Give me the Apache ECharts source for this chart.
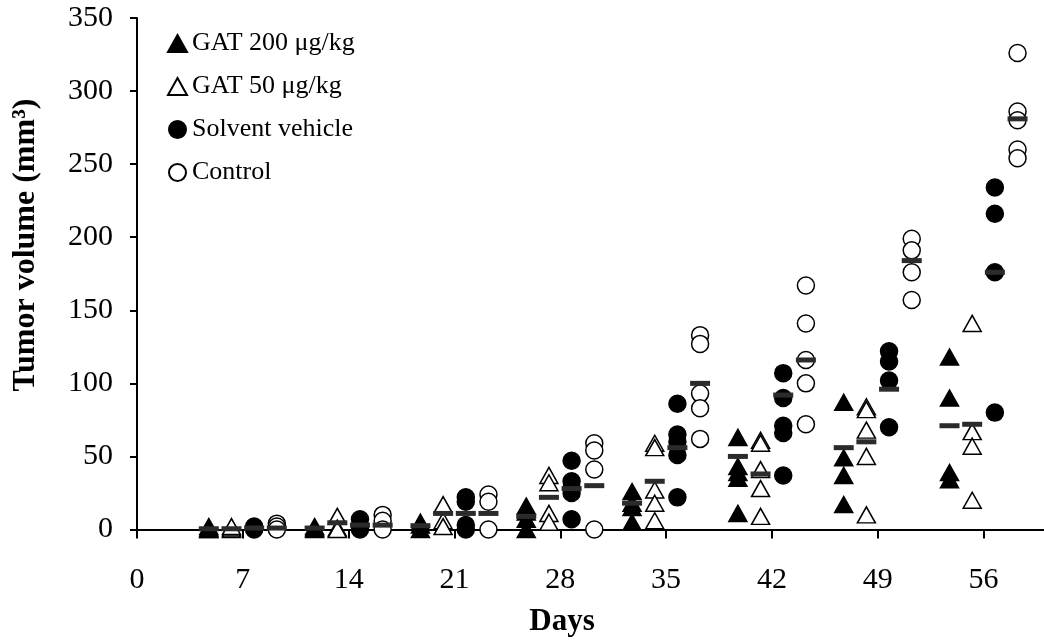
<!DOCTYPE html>
<html>
<head>
<meta charset="utf-8">
<title>Tumor volume</title>
<script src="https://cdn.jsdelivr.net/npm/echarts@6/dist/echarts.min.js"></script>
<style>
  html, body { margin: 0; padding: 0; background: #fff; }
  #chart { width: 1044px; height: 643px; }
</style>
</head>
<body>
<div id="chart"></div>
<script>
// Measurement days and axis ticks
const days = [7, 14, 21, 28, 35, 42, 49, 56];
const xTicks = [0, 7, 14, 21, 28, 35, 42, 49, 56];

// Individual tumor volumes (mm³) per measurement day, one list per day
const gat200 = [
  [0, 0, 1, 2], [0, 1, 2], [5, 3, 0], [16, 12, 7, 0],
  [26, 18, 15, 5], [63, 43, 39, 35, 11], [87, 49, 37, 17], [118, 90, 39, 34]
];
const gat50 = [
  [0, 1, 2], [9, 1, 0], [17, 6, 2], [37, 32, 11, 5],
  [59, 56, 27, 18, 6], [61, 59, 41, 28, 9], [84, 82, 68, 50, 10], [141, 67, 57, 20]
];
const solvent = [
  [2, 1, 0], [7, 2, 0], [22, 19, 3, 0], [47, 33, 28, 25, 7],
  [86, 65, 60, 51, 22], [107, 90, 71, 66, 37], [122, 115, 102, 70], [234, 216, 176, 80]
];
const control = [
  [4, 2, 0], [10, 6, 0], [24, 19, 0], [59, 54, 41, 0],
  [133, 127, 93, 83, 62], [167, 141, 116, 100, 72], [199, 191, 176, 157], [326, 286, 280, 260, 254]
];

// Group means per day
const gat200Mean = [0.5, 1, 2.6, 9, 18, 50, 56, 71];
const gat50Mean = [0.5, 4.6, 11, 22, 33, 38, 60, 72];
const solventMean = [1, 3, 11, 28, 56, 92, 96, 176];
const controlMean = [1, 3, 11, 30, 100, 116, 184, 281];

const FONT = '"Liberation Serif", "Times New Roman", serif';

// Each group sits at a fixed day offset around the measurement day
const groups = [
  { name: 'GAT 200 μg/kg', vals: gat200, mean: gat200Mean, shift: -2.25,
    symbol: 'triangle', size: [18, 16], fill: '#000' },
  { name: 'GAT 50 μg/kg', vals: gat50, mean: gat50Mean, shift: -0.75,
    symbol: 'triangle', size: [18, 16], fill: '#fff' },
  { name: 'Solvent vehicle', vals: solvent, mean: solventMean, shift: 0.75,
    symbol: 'circle', size: 17, fill: '#000' },
  { name: 'Control', vals: control, mean: controlMean, shift: 2.25,
    symbol: 'circle', size: 17, fill: '#fff' }
];

const series = groups.map(g => {
  const data = [];
  days.forEach((d, i) => g.vals[i].forEach(v => data.push([d + g.shift, v])));
  return {
    name: g.name,
    type: 'scatter',
    symbol: g.symbol,
    symbolSize: g.size,
    data: data,
    itemStyle: { color: g.fill, borderColor: '#000', borderWidth: 1.5, opacity: 1 },
    emphasis: { disabled: true },
    z: 2
  };
});

// Mean bars drawn over the points
const meanData = [];
groups.forEach(g => days.forEach((d, i) => meanData.push([d + g.shift, g.mean[i]])));
series.push({
  name: 'mean',
  type: 'scatter',
  symbol: 'rect',
  symbolSize: [20, 5],
  data: meanData,
  itemStyle: { color: '#2b2b2b', opacity: 1 },
  emphasis: { disabled: true },
  z: 5
});

const chart = echarts.init(document.getElementById('chart'), null, { renderer: 'canvas' });
chart.setOption({
  backgroundColor: '#fff',
  animation: false,
  grid: { left: 137, right: 0, top: 18, bottom: 113.5, containLabel: false },
  legend: {
    data: groups.map(g => g.name),
    orient: 'vertical',
    left: 162,
    top: 25,
    itemWidth: 19,
    itemHeight: 17,
    itemGap: 16,
    selectedMode: false,
    textStyle: { fontFamily: FONT, fontSize: 26, color: '#000', lineHeight: 27 }
  },
  xAxis: {
    type: 'value',
    min: 0,
    max: 60,
    axisLine: { show: true, onZero: false, lineStyle: { color: '#000', width: 2 } },
    axisTick: { show: true, inside: false, length: 9, customValues: xTicks,
      lineStyle: { color: '#000', width: 2 } },
    axisLabel: { customValues: xTicks, margin: 36, fontFamily: FONT, fontSize: 30, color: '#000' },
    splitLine: { show: false }
  },
  yAxis: {
    type: 'value',
    min: 0,
    max: 350,
    interval: 50,
    axisLine: { show: true, lineStyle: { color: '#000', width: 2 } },
    axisTick: { show: true, inside: false, length: 7, lineStyle: { color: '#000', width: 2 } },
    axisLabel: { margin: 24, fontFamily: FONT, fontSize: 30, color: '#000' },
    splitLine: { show: false }
  },
  graphic: [
    {
      type: 'text',
      x: 562, y: 622,
      style: { text: 'Days', font: 'bold 31px ' + FONT, fill: '#000',
        align: 'center', verticalAlign: 'middle' }
    },
    {
      type: 'text',
      x: 26, y: 245,
      rotation: Math.PI / 2,
      style: { text: 'Tumor volume (mm³)', font: 'bold 32px ' + FONT, fill: '#000',
        align: 'center', verticalAlign: 'middle' }
    }
  ],
  series: series
});
</script>
</body>
</html>
